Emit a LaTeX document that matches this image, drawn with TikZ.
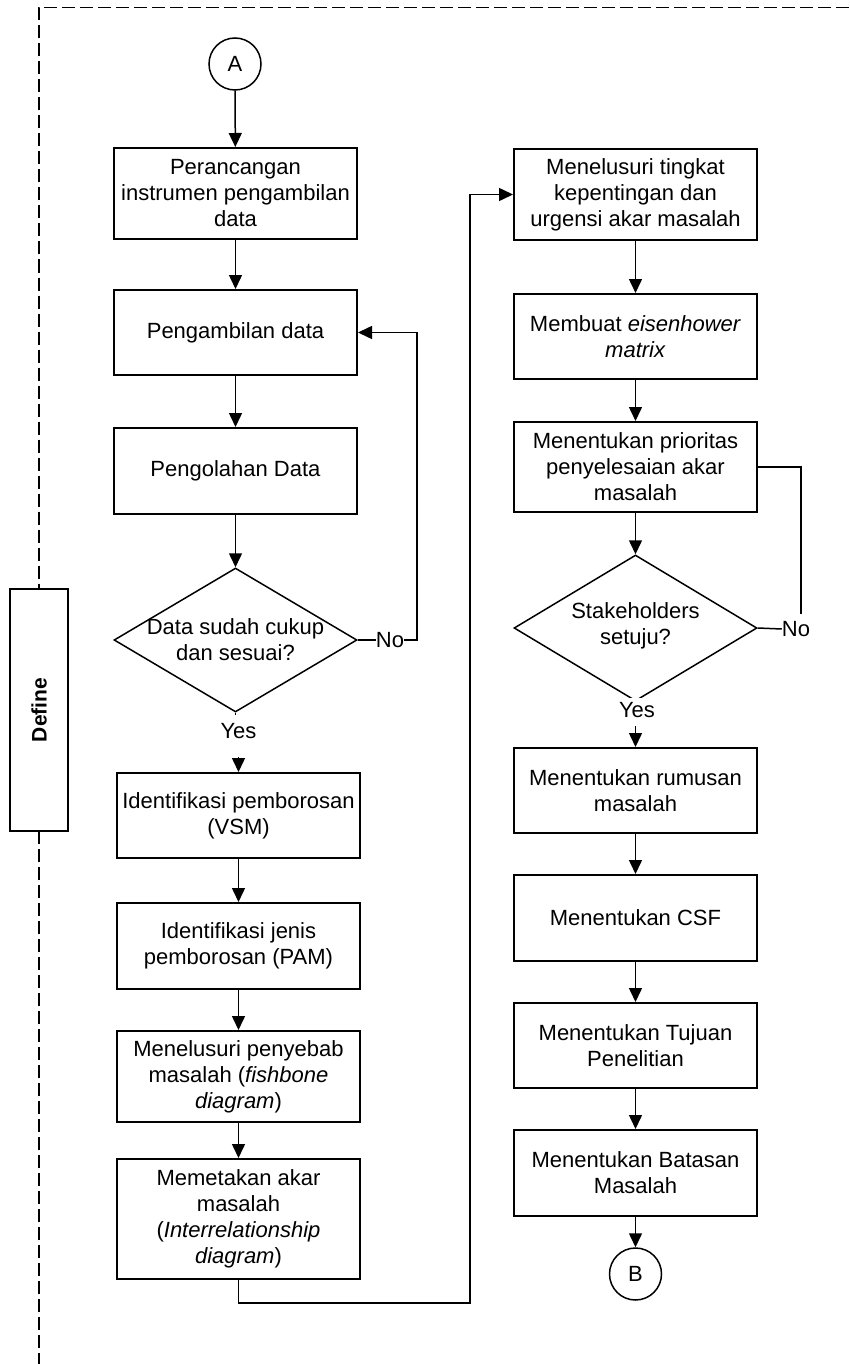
\documentclass[tikz,border=0pt]{standalone}
\usepackage{fontspec}
\setmainfont{Liberation Sans}
\usetikzlibrary{arrows.meta,shapes.geometric}
\begin{document}
\begin{tikzpicture}[x=1pt,y=-1pt,
  font=\fontsize{22}{26}\selectfont,
  box/.style={draw,line width=2pt,minimum width=243pt,align=center,inner sep=0pt},
  dmd/.style={draw,diamond,line width=1.5pt,minimum width=243pt,inner sep=0pt},
  conn/.style={draw,circle,line width=1.5pt,minimum size=52pt,inner sep=0pt},
  lbl/.style={inner sep=0pt,align=center},
  ln/.style={line width=1.5pt},
  arr/.style={line width=1.5pt,-{Triangle[length=14pt,width=13pt]}},
  frame/.style={line width=1.3pt,dash pattern=on 13pt off 5pt}
]
\useasboundingbox (0,0) rectangle (849,1364);
% frame
\draw[frame] (849,7.5) -- (39,7.5) -- (39,589);
\draw[frame] (39,831) -- (39,1364);
\node[draw,line width=2pt,rotate=90,minimum width=242pt,minimum height=58pt,inner sep=0pt,font=\fontsize{21}{25}\selectfont\bfseries] (def) at (39,710) {Define};
% left column
\node[conn] (A) at (235,64) {A};
\node[box,minimum height=91pt] (b1) at (235.5,193.5) {Perancangan\\instrumen pengambilan\\data};
\node[box,minimum height=85pt] (b2) at (235.5,332.5) {Pengambilan data};
\node[box,minimum height=86pt] (b3) at (235.5,471) {Pengolahan Data};
\node[dmd,minimum height=144pt] (d1) at (235.5,640) {};
\node[lbl] (d1t) at (235.5,640) {Data sudah cukup\\dan sesuai?};
\coordinate (y1a) at (235.5,715);
\node[lbl] (yes1) at (238.5,731) {Yes};
\coordinate (y1b) at (238.5,757);
\node[lbl] (no1) at (390,640) {No};
\coordinate (c1) at (417,640);
\node[box,minimum height=85pt] (b4) at (238.5,815.5) {Identifikasi pemborosan\\(VSM)};
\node[box,minimum height=86pt] (b5) at (238.5,946) {Identifikasi jenis\\pemborosan (PAM)};
\node[box,minimum height=91pt] (b6) at (238.5,1076.5) {Menelusuri penyebab\\masalah (\textit{fishbone}\\\textit{diagram})};
\node[box,minimum height=120pt] (b7) at (238.5,1219) {Memetakan akar\\masalah\\(\textit{Interrelationship}\\\textit{diagram})};
\coordinate (c3) at (470,1303);
% right column
\node[box,minimum height=91pt] (r1) at (635.5,194.5) {Menelusuri tingkat\\kepentingan dan\\urgensi akar masalah};
\node[box,minimum height=85pt] (r2) at (635.5,336.5) {Membuat \textit{eisenhower}\\\textit{matrix}};
\node[box,minimum height=90pt] (r3) at (635.5,467) {Menentukan prioritas\\penyelesaian akar\\masalah};
\node[dmd,minimum height=146pt] (d2) at (635.5,628) {};
\node[lbl] (d2t) at (635.5,626) {Stakeholders\\setuju?};
\node[lbl,fill=white,minimum height=24pt,minimum width=40pt] (yes2) at (637,710) {Yes};
\coordinate (y2b) at (635.5,726);
\node[lbl] (no2) at (796,629) {No};
\coordinate (c2) at (801,614);
\node[box,minimum height=85pt] (r4) at (635.5,790.5) {Menentukan rumusan\\masalah};
\node[box,minimum height=86pt] (r5) at (635.5,918) {Menentukan CSF};
\node[box,minimum height=85pt] (r6) at (635.5,1045.5) {Menentukan Tujuan\\Penelitian};
\node[box,minimum height=86pt] (r7) at (635.5,1173) {Menentukan Batasan\\Masalah};
\node[conn] (B) at (635.5,1274) {B};
% connectors left
\draw[arr] (A) -- (b1);
\draw[arr] (b1) -- (b2);
\draw[arr] (b2) -- (b3);
\draw[arr] (b3) -- (d1.north);
\draw[ln] (d1.south) -- (y1a);
\draw[arr] (y1b) -- (b4.north);
\draw[ln] (d1.east) -- (no1.west);
\draw[arr] (no1.east) -- (c1) |- (b2.east);
\draw[arr] (b4) -- (b5);
\draw[arr] (b5) -- (b6);
\draw[arr] (b6) -- (b7);
\draw[arr] (b7.south) |- (c3) |- (r1.west);
% connectors right
\draw[arr] (r1) -- (r2);
\draw[arr] (r2) -- (r3);
\draw[arr] (r3) -- (d2.north);
\draw[ln] (d2.east) -- (no2.west);
\draw[ln] (c2) |- (r3.east);
\draw[arr] (y2b) -- (r4.north);
\draw[arr] (r4) -- (r5);
\draw[arr] (r5) -- (r6);
\draw[arr] (r6) -- (r7);
\draw[arr] (r7) -- (B);
\end{tikzpicture}
\end{document}
